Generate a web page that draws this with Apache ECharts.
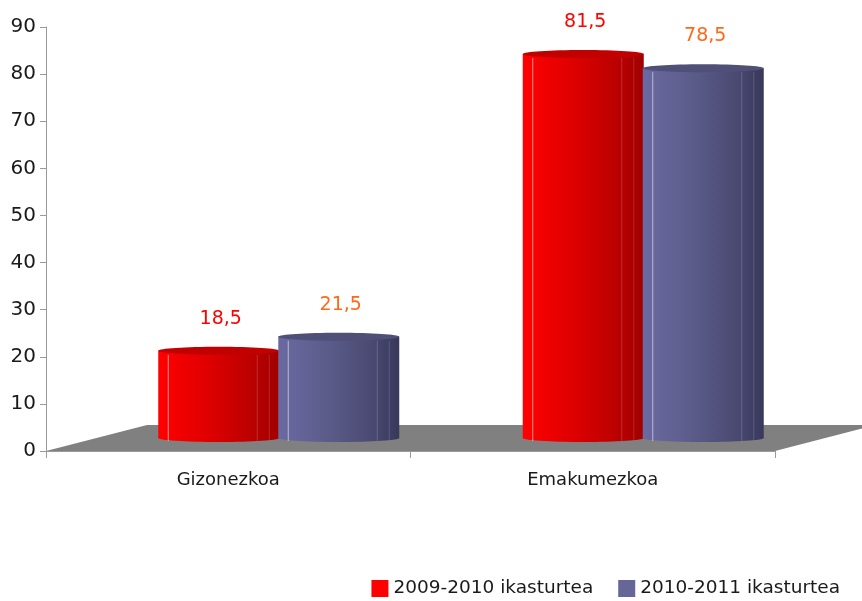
<!DOCTYPE html>
<html>
<head>
<meta charset="utf-8">
<script src="https://cdn.jsdelivr.net/npm/echarts@6/dist/echarts.min.js"></script>
<style>
  html, body { margin: 0; padding: 0; background: #fff; }
  #chart { width: 862px; height: 601px; }
</style>
</head>
<body>
<div id="chart"></div>
<script>
const categories = ['Gizonezkoa', 'Emakumezkoa'];
const seriesNames = ['2009-2010 ikasturtea', '2010-2011 ikasturtea'];
const values2009 = [18.5, 81.5];
const values2010 = [21.5, 78.5];
const yTicks = [0, 10, 20, 30, 40, 50, 60, 70, 80, 90];

// 3d depth of the floor, in pixels
const DX = 101;
const DY = -26;
const BAR_W = 121;
const RY = 4;
const FONT = 'DejaVu Sans';

const looks = [
  {
    legend: '#ff0000',
    label: '#ff0000',
    top: '#c20000',
    body: [['#ff0000', 0], ['#e00000', 0.4], ['#b80000', 0.8], ['#a00000', 1]]
  },
  {
    legend: '#666699',
    label: '#ff6a1a',
    top: '#4f4f78',
    body: [['#6a6aa2', 0], ['#5a5a88', 0.45], ['#484870', 0.8], ['#38385a', 1]]
  }
];

function floorItem(params, api) {
  const cs = params.coordSys;
  const y0 = api.coord([0, 0])[1];
  return {
    type: 'polygon',
    shape: {
      points: [
        [cs.x, y0],
        [cs.x + DX, y0 + DY],
        [cs.x + cs.width + DX, y0 + DY],
        [cs.x + cs.width, y0]
      ]
    },
    style: { fill: '#808080' },
    silent: true
  };
}

function cylinder(si) {
  const look = looks[si];
  return function (params, api) {
    const top = api.coord([api.value(0), api.value(1)]);
    const base = api.coord([api.value(0), 0]);
    const cx = top[0] + DX / 2 + (si === 0 ? -60 : 60);
    const yTop = top[1] + DY / 2;
    const yBot = base[1] + DY / 2;
    const x0 = cx - BAR_W / 2;
    const grad = new echarts.graphic.LinearGradient(0, 0, 1, 0,
      look.body.map(s => ({ offset: s[1], color: s[0] })));
    const v = api.value(1);
    return {
      type: 'group',
      children: [
        { type: 'ellipse', shape: { cx: cx, cy: yBot, rx: BAR_W / 2, ry: RY }, style: { fill: grad } },
        { type: 'rect', shape: { x: x0, y: yTop, width: BAR_W, height: yBot - yTop }, style: { fill: grad } },
        { type: 'line', shape: { x1: x0 + 10, y1: yTop + RY, x2: x0 + 10, y2: yBot + RY - 1 },
          style: { stroke: 'rgba(255,255,255,0.55)', lineWidth: 1 } },
        { type: 'line', shape: { x1: x0 + BAR_W - 22, y1: yTop + RY, x2: x0 + BAR_W - 22, y2: yBot + RY - 1 },
          style: { stroke: 'rgba(255,255,255,0.18)', lineWidth: 1 } },
        { type: 'line', shape: { x1: x0 + BAR_W - 10, y1: yTop + RY, x2: x0 + BAR_W - 10, y2: yBot + RY - 1 },
          style: { stroke: 'rgba(255,255,255,0.15)', lineWidth: 1 } },
        { type: 'ellipse', shape: { cx: cx, cy: yTop, rx: BAR_W / 2, ry: RY }, style: { fill: look.top } },
        {
          type: 'text',
          style: {
            x: cx + 2, y: yTop - 32,
            text: String(v).replace('.', ','),
            fill: look.label,
            font: '19px "' + FONT + '"',
            align: 'center',
            verticalAlign: 'middle'
          }
        }
      ]
    };
  };
}

const chart = echarts.init(document.getElementById('chart'));

const option = {
  animation: false,
  backgroundColor: '#ffffff',
  textStyle: { fontFamily: FONT },
  grid: { left: 46, right: 87, top: 27, bottom: 150, containLabel: false },
  legend: {
    data: seriesNames,
    right: 22,
    bottom: 3,
    padding: 0,
    icon: 'rect',
    itemWidth: 17,
    itemHeight: 17,
    itemGap: 25,
    textStyle: { fontFamily: FONT, fontSize: 18.5, color: '#1a1a1a' }
  },
  xAxis: {
    type: 'category',
    data: categories,
    boundaryGap: true,
    axisLine: { lineStyle: { color: '#9a9a9a', width: 1 } },
    axisTick: { show: true, length: 7, interval: 0, lineStyle: { color: '#9a9a9a' } },
    axisLabel: { fontFamily: FONT, fontSize: 18, color: '#1a1a1a', margin: 20 },
    splitLine: { show: false }
  },
  yAxis: {
    type: 'value',
    min: yTicks[0],
    max: yTicks[yTicks.length - 1],
    interval: 10,
    axisLine: { show: true, lineStyle: { color: '#9a9a9a', width: 1 } },
    axisTick: { show: true, length: 6, lineStyle: { color: '#9a9a9a' } },
    axisLabel: { fontFamily: FONT, fontSize: 20, color: '#1a1a1a', margin: 10 },
    splitLine: { show: false }
  },
  series: [
    {
      name: 'floor',
      type: 'custom',
      renderItem: floorItem,
      data: [[0, 0]],
      z: 1,
      silent: true,
      tooltip: { show: false }
    },
    {
      name: seriesNames[0],
      type: 'custom',
      renderItem: cylinder(0),
      itemStyle: { color: looks[0].legend },
      data: categories.map((c, i) => [i, values2009[i]]),
      z: 3
    },
    {
      name: seriesNames[1],
      type: 'custom',
      renderItem: cylinder(1),
      itemStyle: { color: looks[1].legend },
      data: categories.map((c, i) => [i, values2010[i]]),
      z: 4
    }
  ]
};

chart.setOption(option);
</script>
</body>
</html>
